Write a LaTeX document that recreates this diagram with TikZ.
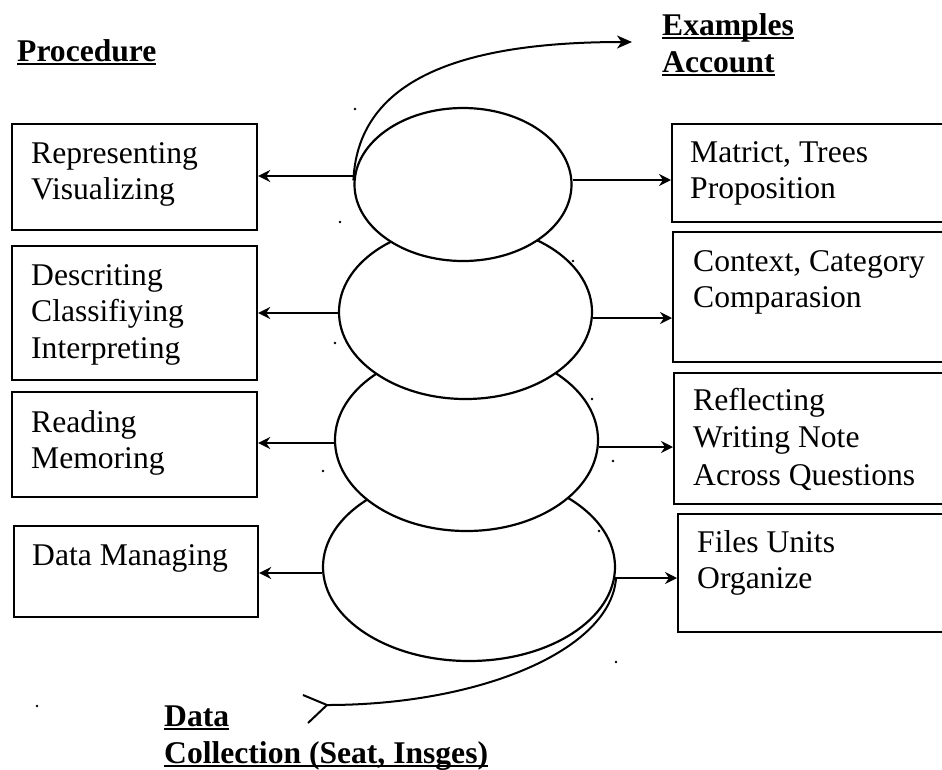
\documentclass[tikz,border=0pt]{standalone}
\usepackage{fontspec}
\setmainfont{Liberation Serif}
\usetikzlibrary{shapes.geometric,arrows.meta}
% underlined word with a fixed rule just under the baseline
\newcommand\ulword[1]{\setbox0\hbox{#1}\rlap{\rule[-4pt]{\wd0}{2pt}}\box0}
\newcommand\firststrut{\rule{0pt}{24pt}}
\begin{document}
\begin{tikzpicture}[x=1pt,y=-1pt,
  txt/.style={anchor=north west,inner sep=0pt,align=left,
    font=\fontsize{31.6}{36.5}\selectfont},
  lbl/.style={anchor=north west,inner sep=0pt,align=left,
    font=\fontsize{31.6}{37}\selectfont\bfseries},
  box/.style={draw,line width=2.2pt,anchor=north west,inner sep=0pt},
  oval/.style={draw,fill=white,ellipse,line width=2.2pt,inner sep=0pt},
  arr/.style={line width=1.9pt,-{Stealth[length=12pt,width=12pt,inset=4pt]}},
  speck/.style={fill=black}]
\useasboundingbox (0,0) rectangle (942,769);
\clip (0,0) rectangle (942,769);

% headings
\node[lbl] (hproc) at (17,37) {\firststrut\ulword{Procedure}};
\node[lbl] (hex) at (662,11) {\firststrut\ulword{Examples}\\\ulword{Account}};
\node[lbl] (hdata) at (164,702) {\firststrut\ulword{Data}\\\ulword{Collection (Seat, Insges)}};

% left column
\node[box,minimum width=245pt,minimum height=106pt] (b1) at (11,123) {};
\node[box,minimum width=245pt,minimum height=134pt] (b2) at (11,245) {};
\node[box,minimum width=245pt,minimum height=105pt] (b3) at (11,391) {};
\node[box,minimum width=244pt,minimum height=91pt]  (b4) at (13,525) {};
\node[txt] (t1) at ([shift={(20,16)}]b1.north west) {\firststrut Representing\\Visualizing};
\node[txt] (t2) at ([shift={(20,16)}]b2.north west) {\firststrut Descriting\\Classifiying\\Interpreting};
\node[txt] (t3) at ([shift={(20,17)}]b3.north west) {\firststrut Reading\\Memoring};
\node[txt] (t4) at ([shift={(19,16)}]b4.north west) {\firststrut Data Managing};

% right column
\node[box,minimum width=290pt,minimum height=98pt]  (r1) at (671,123) {};
\node[box,minimum width=290pt,minimum height=130pt] (r2) at (672,231) {};
\node[box,minimum width=290pt,minimum height=131pt] (r3) at (673,372) {};
\node[box,minimum width=290pt,minimum height=118pt] (r4) at (677,513) {};
\node[txt] (s1) at ([shift={(19,15)}]r1.north west) {\firststrut Matrict, Trees\\Proposition};
\node[txt] (s2) at ([shift={(21,16)}]r2.north west) {\firststrut Context, Category\\Comparasion};
\node[txt,font=\fontsize{31.6}{37.5}\selectfont] (s3) at ([shift={(20,14)}]r3.north west) {\firststrut Reflecting\\Writing Note\\Across Questions};
\node[txt] (s4) at ([shift={(20,15)}]r4.north west) {\firststrut Files Units\\Organize};

% stacked ovals, lowest first so each upper one covers the next
\node[oval,minimum width=292pt,minimum height=188pt] (e4) at (469,567) {};
\node[oval,minimum width=263pt,minimum height=182pt] (e3) at (466.5,440) {};
\node[oval,minimum width=253pt,minimum height=174pt] (e2) at (465.5,312) {};
\node[oval,minimum width=217pt,minimum height=153pt] (e1) at (463,184.5) {};

% arrows from the ovals to both columns
\coordinate (a1) at ([yshift=8.5pt]e1.west);
\coordinate (a2) at ([yshift=-1pt]e2.west);
\coordinate (a3) at ([yshift=-3pt]e3.west);
\coordinate (a4) at ([yshift=-6pt]e4.west);
\coordinate (c1) at ([yshift=4.5pt]e1.east);
\coordinate (c2) at ([yshift=-6pt]e2.east);
\coordinate (c3) at ([yshift=-7pt]e3.east);
\coordinate (c4) at ([yshift=-11pt]e4.east);
\draw[arr] (a1) -- (a1 -| b1.east);
\draw[arr] (a2) -- (a2 -| b2.east);
\draw[arr] (a3) -- (a3 -| b3.east);
\draw[arr] (a4) -- (a4 -| b4.east);
\draw[arr] (c1) -- (c1 -| r1.west);
\draw[arr] (c2) -- (c2 -| r2.west);
\draw[arr] (c3) -- (c3 -| r3.west);
\draw[arr] (c4) -- (c4 -| r4.west);

% spiral ends: up to the examples, down to the data collection
\coordinate (topstart) at ([yshift=4pt]e1.west);
\coordinate (toptip) at (632,42);
\draw[line width=2pt,-{Stealth[length=15pt,width=13pt,inset=4.5pt]}]
  (topstart) .. controls (358,75) and (470,42) .. (toptip);
\coordinate (botstart) at ([yshift=-10pt]e4.east);
\coordinate (botend) at (327,705);
\draw[line width=2pt] (botstart) .. controls (612,650) and (480,705) .. (botend);
\draw[line width=2pt] (botend) -- ++(-24,-10);
\draw[line width=2pt] (botend) -- ++(-19,18);

% stray specks
\foreach \p in {(355,109),(340,222),(335,343),(323,471),(573,261),(592,399),
                (613,461),(599,531),(616,662),(37,706)}
  \fill[speck] \p circle (1.3pt);
\end{tikzpicture}
\end{document}
